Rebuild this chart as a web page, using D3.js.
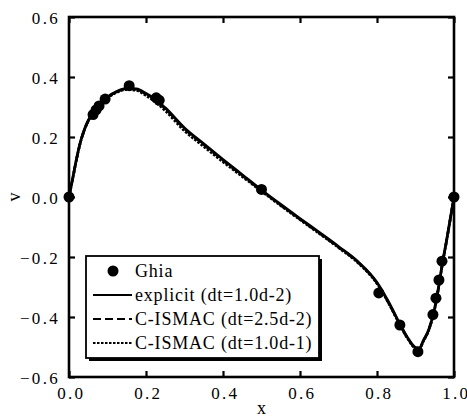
<!DOCTYPE html>
<html>
<head>
<meta charset="utf-8">
<script src="https://cdn.jsdelivr.net/npm/d3@7"></script>
<style>
  body { margin: 0; background: #fff; }
  svg text { font-family: "Liberation Serif", "DejaVu Serif", serif; fill: #000; }
</style>
</head>
<body>
<div id="chart"></div>
<script>
// Ghia et al. reference points
var ghiaX = [0.0, 0.0625, 0.0703, 0.0781, 0.0938, 0.1563, 0.2266, 0.2344, 0.5, 0.8047, 0.8594, 0.9063, 0.9453, 0.9531, 0.9609, 0.9688, 1.0];
var ghiaV = [0.0, 0.27485, 0.29012, 0.30353, 0.32627, 0.37095, 0.33075, 0.32235, 0.02526, -0.31966, -0.42665, -0.5155, -0.39188, -0.33714, -0.27669, -0.21388, 0.0];

// computed profiles
var curveX = [0, 0.01, 0.02, 0.03, 0.04, 0.05, 0.0625, 0.08, 0.1, 0.125, 0.15, 0.175, 0.2, 0.225, 0.25, 0.3, 0.35, 0.4, 0.45, 0.5, 0.55, 0.6, 0.65, 0.7, 0.75, 0.8, 0.83, 0.86, 0.88, 0.9, 0.91, 0.92, 0.935, 0.95, 0.96, 0.97, 0.98, 0.99, 1.0];
var explicitV = [0, 0.065, 0.13, 0.185, 0.225, 0.255, 0.28, 0.31, 0.333, 0.352, 0.362, 0.36, 0.345, 0.325, 0.297, 0.23, 0.177, 0.125, 0.074, 0.023, -0.025, -0.072, -0.118, -0.165, -0.215, -0.285, -0.35, -0.425, -0.47, -0.502, -0.505, -0.48, -0.44, -0.37, -0.3, -0.22, -0.15, -0.075, 0];
var ismac25V = [0, 0.064, 0.129, 0.184, 0.224, 0.254, 0.279, 0.309, 0.332, 0.351, 0.361, 0.359, 0.343, 0.322, 0.294, 0.227, 0.174, 0.122, 0.072, 0.021, -0.027, -0.074, -0.12, -0.167, -0.217, -0.287, -0.352, -0.426, -0.471, -0.503, -0.505, -0.481, -0.441, -0.372, -0.302, -0.222, -0.151, -0.076, 0];
var ismac10V = [0, 0.063, 0.128, 0.183, 0.223, 0.253, 0.278, 0.307, 0.33, 0.349, 0.358, 0.355, 0.338, 0.316, 0.287, 0.22, 0.168, 0.117, 0.068, 0.019, -0.029, -0.076, -0.122, -0.169, -0.219, -0.289, -0.354, -0.428, -0.473, -0.504, -0.506, -0.482, -0.442, -0.373, -0.303, -0.223, -0.152, -0.077, 0];

var xTicks = [0, 0.2, 0.4, 0.6, 0.8, 1.0];
var yTicks = [-0.6, -0.4, -0.2, 0, 0.2, 0.4, 0.6];
var legendLabels = ["Ghia", "explicit (dt=1.0d-2)", "C-ISMAC (dt=2.5d-2)", "C-ISMAC (dt=1.0d-1)"];

var width = 467, height = 418;
var plotL = 69, plotR = 454, plotT = 17, plotB = 377;

var svg = d3.select("#chart").append("svg")
  .attr("width", width).attr("height", height);

var x = d3.scaleLinear().domain([0, 1]).range([plotL, plotR]);
var y = d3.scaleLinear().domain([-0.6, 0.6]).range([plotB, plotT]);

// axes with inward ticks on all four sides
function styleAxis(g) {
  g.select(".domain").remove();
  g.selectAll(".tick line").attr("stroke", "#000").attr("stroke-width", 2.2);
  g.selectAll("text").attr("font-size", 17).style("letter-spacing", "2.3px");
}
svg.append("g").attr("transform", "translate(0," + plotB + ")")
  .call(d3.axisBottom(x).tickValues(xTicks).tickSize(-6).tickPadding(10).tickFormat(d3.format(".1f")))
  .call(styleAxis)
  .selectAll("text").attr("dx", "0.1em");
svg.append("g").attr("transform", "translate(" + plotL + ",0)")
  .call(d3.axisLeft(y).tickValues(yTicks).tickSize(-6).tickPadding(9).tickFormat(d3.format(".1f")))
  .call(styleAxis)
  .selectAll("text").attr("dy", "0.36em");
svg.append("g").attr("transform", "translate(0," + plotT + ")")
  .call(d3.axisTop(x).tickValues(xTicks).tickSize(-6).tickFormat(""))
  .call(styleAxis);
svg.append("g").attr("transform", "translate(" + plotR + ",0)")
  .call(d3.axisRight(y).tickValues(yTicks).tickSize(-6).tickFormat(""))
  .call(styleAxis);

svg.append("rect")
  .attr("x", plotL).attr("y", plotT)
  .attr("width", plotR - plotL).attr("height", plotB - plotT)
  .attr("fill", "none").attr("stroke", "#000").attr("stroke-width", 2.6);

// curves
var line = d3.line().curve(d3.curveMonotoneX);
function drawCurve(vals, dash, w) {
  svg.append("path")
    .datum(curveX.map(function(d, i) { return [x(d), y(vals[i])]; }))
    .attr("d", line)
    .attr("fill", "none")
    .attr("stroke", "#000")
    .attr("stroke-width", w)
    .attr("stroke-dasharray", dash);
}
drawCurve(ismac10V, "2.5,1.5", 2.6);
drawCurve(ismac25V, "8,4", 2.6);
drawCurve(explicitV, null, 2.8);

// Ghia points
svg.selectAll("circle.ghia")
  .data(ghiaX)
  .enter().append("circle")
  .attr("class", "ghia")
  .attr("cx", function(d) { return x(d); })
  .attr("cy", function(d, i) { return y(ghiaV[i]); })
  .attr("r", 5.5)
  .attr("fill", "#000");

// legend
var lg = svg.append("g");
lg.append("rect").attr("x", 89).attr("y", 259).attr("width", 233).attr("height", 102).attr("fill", "#000");
lg.append("rect").attr("x", 86).attr("y", 256).attr("width", 233).attr("height", 102)
  .attr("fill", "#fff").attr("stroke", "#000").attr("stroke-width", 1.8);

var rowY = [271, 295, 319, 343];
var dashes = [null, null, "8,4", "2.5,1.5"];
legendLabels.forEach(function(label, i) {
  if (i == 0) {
    lg.append("circle").attr("cx", 113).attr("cy", rowY[i]).attr("r", 5.5).attr("fill", "#000");
  } else {
    lg.append("line")
      .attr("x1", 93).attr("x2", 132)
      .attr("y1", rowY[i]).attr("y2", rowY[i])
      .attr("stroke", "#000").attr("stroke-width", 2.2)
      .attr("stroke-dasharray", dashes[i]);
  }
  lg.append("text")
    .attr("x", 135).attr("y", rowY[i]).attr("dy", "0.35em")
    .attr("font-size", 18)
    .style("letter-spacing", "0.8px")
    .text(label);
});

// axis titles
svg.append("text").attr("x", (plotL + plotR) / 2).attr("y", 414)
  .attr("text-anchor", "middle").attr("font-size", 18).text("x");
svg.append("text").attr("transform", "translate(14,197) rotate(-90)")
  .attr("text-anchor", "middle").attr("dy", "0.35em").attr("font-size", 18).text("v");
</script>
</body>
</html>
